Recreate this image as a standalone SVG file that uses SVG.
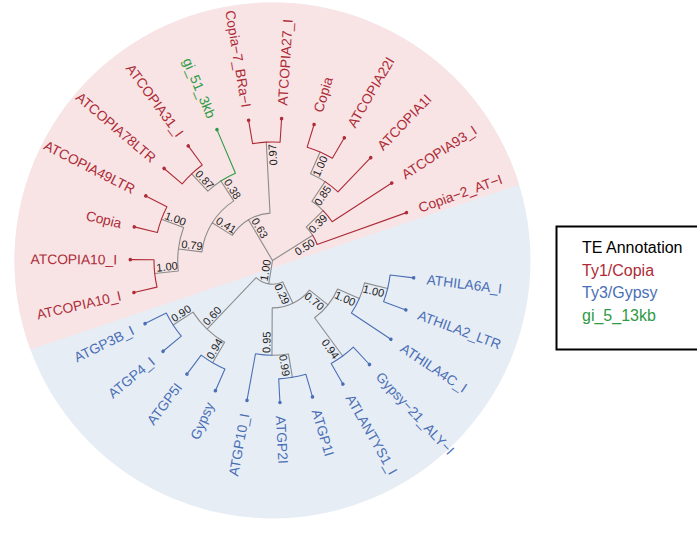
<svg xmlns="http://www.w3.org/2000/svg" width="697" height="533" viewBox="0 0 697 533">
<style>
.bgc{fill:#F8E4E5}
.bgg{fill:#E7EDF5}
.e{fill:none;stroke-width:1.1;stroke-linecap:round;stroke-linejoin:round}
.g{stroke:#8C8C8C}
.r{stroke:#AE2B37}
.b{stroke:#4A6FB5}
.gr{stroke:#2E9A45}
.tl{font-family:"Liberation Sans",Arial,sans-serif;font-size:13.8px}
.fl{text-anchor:end}
.bs{font-family:"Liberation Sans",Arial,sans-serif;font-size:11px;fill:#222;text-anchor:middle}
.cr{fill:#AE2B37}
.cb{fill:#4A6FB5}
.cg{fill:#2E9A45}
.lg{font-family:"Liberation Sans",Arial,sans-serif;font-size:16px}
</style>
<rect width="697" height="533" fill="#fff"/>
<g id="background">
<circle cx="272.5" cy="260.5" r="258" class="bgg"/>
<path class="bgc" d="M519.1,184.67 A258,258 0 1 0 30.38,349.61 Z"/>
</g>
<g id="connectors">
<path class="e g" d="M272.5,260.5 L248.44,219.66 M272.5,260.5 L312.62,235.26 M272.5,260.5 L268.76,283.9
M248.44,219.66 A47.4,47.4 0 0 0 232.3,235.38 L212.2,222.82
M248.44,219.66 A47.4,47.4 0 0 1 270.02,213.16 L266.3,142.16
M212.2,222.82 A71.1,71.1 0 0 0 201.93,251.84 L178.41,248.95
M212.2,222.82 A71.1,71.1 0 0 1 233.78,200.87 L220.87,180.99
M178.41,248.95 A94.8,94.8 0 0 0 178.28,270.96 L154.72,273.57
M178.41,248.95 A94.8,94.8 0 0 1 183.61,227.56 L161.39,219.32
M220.87,180.99 A94.8,94.8 0 0 0 207.85,191.17 L191.68,173.84
M312.62,235.26 A47.4,47.4 0 0 0 306.21,227.18 L323.07,210.52
M323.07,210.52 A71.1,71.1 0 0 0 311.92,201.32 L325.05,181.6
M325.05,181.6 A94.8,94.8 0 0 0 310.55,173.67 L320.07,151.96
M268.76,283.9 A23.7,23.7 0 0 1 256.14,277.64 L207.04,329.08
M268.76,283.9 A23.7,23.7 0 0 0 282.7,281.89 L292.91,303.28
M207.04,329.08 A94.8,94.8 0 0 1 192.99,312.13 L173.12,325.04
M207.04,329.08 A94.8,94.8 0 0 0 224.62,342.32 L212.65,362.78
M292.91,303.28 A47.4,47.4 0 0 1 272.22,307.9 L271.95,355.3
M292.91,303.28 A47.4,47.4 0 0 0 309.51,290.12 L328.02,304.92
M271.95,355.3 A94.8,94.8 0 0 0 288.42,353.96 L292.4,377.32
M328.02,304.92 A71.1,71.1 0 0 1 314.63,317.78 L342.71,355.96
M328.02,304.92 A71.1,71.1 0 0 0 337.62,289.04 L359.33,298.55
M359.33,298.55 A94.8,94.8 0 0 0 364.61,282.9 L387.64,288.5"/>
<path class="e r" d="M154.72,273.57 A118.5,118.5 0 0 0 157.04,287.16 L133.94,292.49
M154.72,273.57 A118.5,118.5 0 0 1 154,259.81 L130.3,259.67
M161.39,219.32 A118.5,118.5 0 0 0 157.36,232.5 L134.33,226.9
M161.39,219.32 A118.5,118.5 0 0 1 166.92,206.7 L145.8,195.94
M191.68,173.84 A118.5,118.5 0 0 0 182.17,183.8 L164.1,168.46
M191.68,173.84 A118.5,118.5 0 0 1 202.29,165.04 L188.25,145.94
M266.3,142.16 A118.5,118.5 0 0 0 252.6,143.68 L248.62,120.32
M266.3,142.16 A118.5,118.5 0 0 1 280.08,142.24 L281.59,118.59
M312.62,235.26 A47.4,47.4 0 0 1 317.14,244.55 L406.41,212.64
M323.07,210.52 A71.1,71.1 0 0 1 332.13,221.78 L391.76,183.05
M325.05,181.6 A94.8,94.8 0 0 1 337.96,191.92 L370.68,157.64
M320.07,151.96 A118.5,118.5 0 0 0 307.15,147.18 L314.07,124.51
M320.07,151.96 A118.5,118.5 0 0 1 332.35,158.22 L344.32,137.76"/>
<path class="e gr" d="M220.87,180.99 A94.8,94.8 0 0 1 235.46,173.24 L216.94,129.6"/>
<path class="e b" d="M173.12,325.04 A118.5,118.5 0 0 1 166.3,313.07 L145.06,323.58
M173.12,325.04 A118.5,118.5 0 0 0 181.28,336.14 L163.04,351.27
M212.65,362.78 A118.5,118.5 0 0 1 201.18,355.14 L186.92,374.07
M212.65,362.78 A118.5,118.5 0 0 0 224.93,369.04 L215.42,390.74
M271.95,355.3 A94.8,94.8 0 0 1 255.5,353.76 L246.99,400.39
M292.4,377.32 A118.5,118.5 0 0 1 278.7,378.84 L279.94,402.51
M292.4,377.32 A118.5,118.5 0 0 0 305.83,374.22 L312.49,396.96
M342.71,355.96 A118.5,118.5 0 0 1 331.16,363.47 L342.89,384.06
M342.71,355.96 A118.5,118.5 0 0 0 353.32,347.16 L369.48,364.5
M359.33,298.55 A94.8,94.8 0 0 1 351.4,313.06 L390.85,339.33
M387.64,288.5 A118.5,118.5 0 0 1 383.61,301.68 L405.84,309.91
M387.64,288.5 A118.5,118.5 0 0 0 390.12,274.94 L413.64,277.83"/>
</g>
<g id="internal-nodes" transform="translate(272.5,260.5)">
<g id="n-0.63"><text class="bs" transform="rotate(239.5) translate(34.4,0) rotate(180)" y="-1.6">0.63</text></g>
<g id="n-0.41"><text class="bs" transform="rotate(212) translate(58.1,0) rotate(180)" y="-1.6">0.41</text></g>
<g id="n-0.79"><text class="bs" transform="rotate(187) translate(81.8,0) rotate(180)" y="-1.6">0.79</text></g>
<g id="n-1.00-a"><text class="bs" transform="rotate(173.667) translate(105.5,0) rotate(180)" y="-1.6">1.00</text></g>
<g id="n-1.00-b"><text class="bs" transform="rotate(200.333) translate(105.5,0) rotate(180)" y="-1.6">1.00</text></g>
<g id="n-0.38"><text class="bs" transform="rotate(237) translate(81.8,0) rotate(180)" y="-1.6">0.38</text></g>
<g id="n-0.87"><text class="bs" transform="rotate(227) translate(105.5,0) rotate(180)" y="-1.6">0.87</text></g>
<g id="n-0.97"><text class="bs" transform="rotate(267) translate(105.5,0)" y="9.6">0.97</text></g>
<g id="n-0.50"><text class="bs" transform="rotate(327.833) translate(34.4,0)" y="9.6">0.50</text></g>
<g id="n-0.39"><text class="bs" transform="rotate(315.333) translate(58.1,0)" y="9.6">0.39</text></g>
<g id="n-0.85"><text class="bs" transform="rotate(303.667) translate(81.8,0)" y="9.6">0.85</text></g>
<g id="n-1.00-c"><text class="bs" transform="rotate(293.667) translate(105.5,0)" y="9.6">1.00</text></g>
<g id="n-1.00-g"><text class="bs" transform="rotate(99.083) translate(10.7,0) rotate(180)" y="-1.6">1.00</text></g>
<g id="n-0.60"><text class="bs" transform="rotate(133.667) translate(81.8,0) rotate(180)" y="-1.6">0.60</text></g>
<g id="n-0.90"><text class="bs" transform="rotate(147) translate(105.5,0) rotate(180)" y="-1.6">0.90</text></g>
<g id="n-0.94-a"><text class="bs" transform="rotate(120.333) translate(105.5,0) rotate(180)" y="-1.6">0.94</text></g>
<g id="n-0.29"><text class="bs" transform="rotate(64.5) translate(34.4,0)" y="9.6">0.29</text></g>
<g id="n-0.95"><text class="bs" transform="rotate(90.333) translate(81.8,0) rotate(180)" y="-1.6">0.95</text></g>
<g id="n-0.99"><text class="bs" transform="rotate(80.333) translate(105.5,0)" y="9.6">0.99</text></g>
<g id="n-0.70"><text class="bs" transform="rotate(38.667) translate(58.1,0)" y="9.6">0.70</text></g>
<g id="n-0.94-b"><text class="bs" transform="rotate(53.667) translate(105.5,0)" y="9.6">0.94</text></g>
<g id="n-1.00-o"><text class="bs" transform="rotate(23.667) translate(81.8,0)" y="9.6">1.00</text></g>
<g id="n-1.00-i"><text class="bs" transform="rotate(13.667) translate(105.5,0)" y="9.6">1.00</text></g>
</g>
<g id="tips" transform="translate(272.5,260.5)">
<g id="t00-ATHILA6A_I" transform="rotate(7)"><circle cx="142.2" r="1.8" class="cb"/><text class="tl cb" x="155.5" y="4.8">ATHILA6A_I</text></g>
<g id="t01-ATHILA2_LTR" transform="rotate(20.333)"><circle cx="142.2" r="1.8" class="cb"/><text class="tl cb" x="155.5" y="4.8">ATHILA2_LTR</text></g>
<g id="t02-ATHILA4C_I" transform="rotate(33.667)"><circle cx="142.2" r="1.8" class="cb"/><text class="tl cb" x="155.5" y="4.8">ATHILA4C_I</text></g>
<g id="t03-Gypsy-21_ALY-I" transform="rotate(47)"><circle cx="142.2" r="1.8" class="cb"/><text class="tl cb" x="155.5" y="4.8">Gypsy−21_ALY−I</text></g>
<g id="t04-ATLANTYS1_I" transform="rotate(60.333)"><circle cx="142.2" r="1.8" class="cb"/><text class="tl cb" x="155.5" y="4.8">ATLANTYS1_I</text></g>
<g id="t05-ATGP1I" transform="rotate(73.667)"><circle cx="142.2" r="1.8" class="cb"/><text class="tl cb" x="155.5" y="4.8">ATGP1I</text></g>
<g id="t06-ATGP2I" transform="rotate(87)"><circle cx="142.2" r="1.8" class="cb"/><text class="tl cb" x="155.5" y="4.8">ATGP2I</text></g>
<g id="t07-ATGP10_I" transform="rotate(100.333)"><circle cx="142.2" r="1.8" class="cb"/><text class="tl cb fl" transform="translate(155.5,0) rotate(180)" y="4.8">ATGP10_I</text></g>
<g id="t08-Gypsy" transform="rotate(113.667)"><circle cx="142.2" r="1.8" class="cb"/><text class="tl cb fl" transform="translate(155.5,0) rotate(180)" y="4.8">Gypsy</text></g>
<g id="t09-ATGP5I" transform="rotate(127)"><circle cx="142.2" r="1.8" class="cb"/><text class="tl cb fl" transform="translate(155.5,0) rotate(180)" y="4.8">ATGP5I</text></g>
<g id="t10-ATGP4_I" transform="rotate(140.333)"><circle cx="142.2" r="1.8" class="cb"/><text class="tl cb fl" transform="translate(155.5,0) rotate(180)" y="4.8">ATGP4_I</text></g>
<g id="t11-ATGP3B_I" transform="rotate(153.667)"><circle cx="142.2" r="1.8" class="cb"/><text class="tl cb fl" transform="translate(155.5,0) rotate(180)" y="4.8">ATGP3B_I</text></g>
<g id="t12-ATCOPIA10_I" transform="rotate(167)"><circle cx="142.2" r="1.8" class="cr"/><text class="tl cr fl" transform="translate(155.5,0) rotate(180)" y="4.8">ATCOPIA10_I</text></g>
<g id="t13-ATCOPIA10_I" transform="rotate(180.333)"><circle cx="142.2" r="1.8" class="cr"/><text class="tl cr fl" transform="translate(155.5,0) rotate(180)" y="4.8">ATCOPIA10_I</text></g>
<g id="t14-Copia" transform="rotate(193.667)"><circle cx="142.2" r="1.8" class="cr"/><text class="tl cr fl" transform="translate(155.5,0) rotate(180)" y="4.8">Copia</text></g>
<g id="t15-ATCOPIA49LTR" transform="rotate(207)"><circle cx="142.2" r="1.8" class="cr"/><text class="tl cr fl" transform="translate(155.5,0) rotate(180)" y="4.8">ATCOPIA49LTR</text></g>
<g id="t16-ATCOPIA78LTR" transform="rotate(220.333)"><circle cx="142.2" r="1.8" class="cr"/><text class="tl cr fl" transform="translate(155.5,0) rotate(180)" y="4.8">ATCOPIA78LTR</text></g>
<g id="t17-ATCOPIA31_I" transform="rotate(233.667)"><circle cx="142.2" r="1.8" class="cr"/><text class="tl cr fl" transform="translate(155.5,0) rotate(180)" y="4.8">ATCOPIA31_I</text></g>
<g id="t18-gi_51_3kb" transform="rotate(247)"><circle cx="142.2" r="1.8" class="cg"/><text class="tl cg fl" transform="translate(155.5,0) rotate(180)" y="4.8">gi_51_3kb</text></g>
<g id="t19-Copia-7_BRa-I" transform="rotate(260.333)"><circle cx="142.2" r="1.8" class="cr"/><text class="tl cr fl" transform="translate(155.5,0) rotate(180)" y="4.8">Copia−7_BRa−I</text></g>
<g id="t20-ATCOPIA27_I" transform="rotate(273.667)"><circle cx="142.2" r="1.8" class="cr"/><text class="tl cr" x="155.5" y="4.8">ATCOPIA27_I</text></g>
<g id="t21-Copia" transform="rotate(287)"><circle cx="142.2" r="1.8" class="cr"/><text class="tl cr" x="155.5" y="4.8">Copia</text></g>
<g id="t22-ATCOPIA22I" transform="rotate(300.333)"><circle cx="142.2" r="1.8" class="cr"/><text class="tl cr" x="155.5" y="4.8">ATCOPIA22I</text></g>
<g id="t23-ATCOPIA1I" transform="rotate(313.667)"><circle cx="142.2" r="1.8" class="cr"/><text class="tl cr" x="155.5" y="4.8">ATCOPIA1I</text></g>
<g id="t24-ATCOPIA93_I" transform="rotate(327)"><circle cx="142.2" r="1.8" class="cr"/><text class="tl cr" x="155.5" y="4.8">ATCOPIA93_I</text></g>
<g id="t25-Copia-2_AT-I" transform="rotate(340.333)"><circle cx="142.2" r="1.8" class="cr"/><text class="tl cr" x="155.5" y="4.8">Copia−2_AT−I</text></g>
</g>
<g id="legend">
<rect x="556.5" y="226.5" width="150" height="123" fill="#fff" stroke="#000" stroke-width="2"/>
<text class="lg" x="582" y="253" fill="#000">TE Annotation</text>
<text class="lg cr" x="582" y="275.5">Ty1/Copia</text>
<text class="lg cb" x="582" y="298">Ty3/Gypsy</text>
<text class="lg cg" x="582" y="320.5">gi_5_13kb</text>
</g>
</svg>
